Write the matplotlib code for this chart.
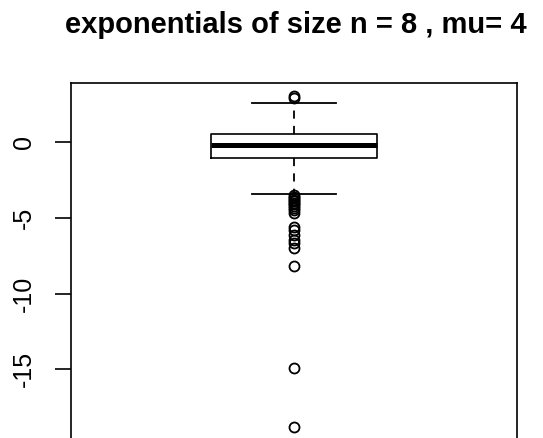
import matplotlib
matplotlib.use("Agg")
import matplotlib.pyplot as plt

plt.rcParams['font.family'] = ['Liberation Sans', 'DejaVu Sans']

# Box statistics
q1 = -1.06
median = -0.17
q3 = 0.53
whisker_low = -3.42
whisker_high = 2.58
outliers = [2.93, 3.05,
            -3.5, -3.6, -3.7, -3.8, -3.9, -4.0, -4.1, -4.2, -4.35, -4.5, -4.7,
            -5.6, -5.8, -6.15, -6.45, -6.65, -7.0, -8.2, -14.9, -18.8]
title = "exponentials of size n = 8 , mu= 4"
yticks = [-15, -10, -5, 0]

stats = [dict(q1=q1, med=median, q3=q3, whislo=whisker_low,
              whishi=whisker_high, fliers=outliers)]

fig = plt.figure(figsize=(5.43, 4.38), dpi=100)
ax = fig.add_axes([71 / 543, -2 / 438, 446 / 543, 357 / 438])

ax.bxp(stats, positions=[1], widths=0.372, capwidths=0.188,
       boxprops=dict(color="black", linewidth=1.2),
       medianprops=dict(color="black", linewidth=3.6, solid_capstyle="butt"),
       whiskerprops=dict(color="black", linewidth=1.3, linestyle=(0, (4.5, 4))),
       capprops=dict(color="black", linewidth=1.3),
       flierprops=dict(marker="o", markersize=7.2, markerfacecolor="none",
                       markeredgecolor="black", markeredgewidth=1.3))

all_vals = outliers + [whisker_low, whisker_high]
lo, hi = min(all_vals), max(all_vals)
pad = 0.04 * (hi - lo)
ax.set_ylim(lo - pad, hi + pad)
ax.set_xlim(0.5, 1.5)

ax.set_yticks(yticks)
ax.set_yticklabels([str(t) for t in yticks], rotation=90, va="center", fontsize=18)
ax.tick_params(axis="y", length=11.5, width=1.2, pad=14)
ax.set_xticks([])
for s in ax.spines.values():
    s.set_linewidth(1.2)

fig.text(296 / 543, 1 - 33 / 438, title, ha="center", va="baseline",
         fontsize=21, fontweight="bold")

fig.savefig("out.png", dpi=100)
